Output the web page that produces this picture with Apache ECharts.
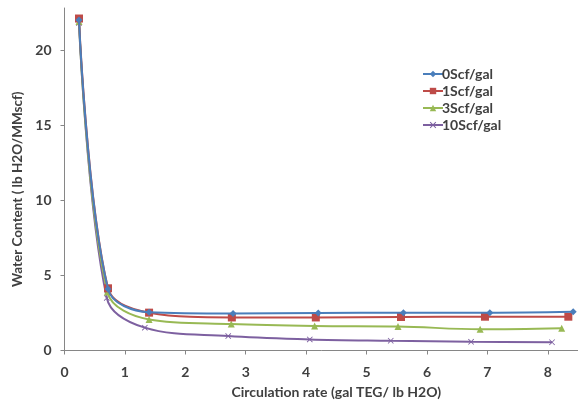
<!DOCTYPE html>
<html>
<head>
<meta charset="utf-8">
<script src="https://cdn.jsdelivr.net/npm/echarts@6/dist/echarts.min.js"></script>
<style>
  html, body { margin: 0; padding: 0; background: #ffffff; }
  #chart { width: 578px; height: 405px; }
</style>
</head>
<body>
<div id="chart"></div>
<script>
// Circulation rate (gal TEG / lb H2O) and water content for each stripping gas rate
const seriesNames = ['0Scf/gal', '1Scf/gal', '3Scf/gal', '10Scf/gal'];

const rate0 = [0.24, 0.72, 1.40, 2.79, 4.20, 5.61, 7.04, 8.42];
const water0 = [22.0, 4.10, 2.55, 2.47, 2.50, 2.52, 2.52, 2.58];

const rate1 = [0.24, 0.72, 1.40, 2.77, 4.16, 5.57, 6.96, 8.34];
const water1 = [22.1, 4.14, 2.52, 2.20, 2.20, 2.23, 2.25, 2.25];

const rate3 = [0.24, 0.71, 1.40, 2.76, 4.14, 5.52, 6.88, 8.23];
const water3 = [21.9, 3.90, 2.07, 1.76, 1.63, 1.60, 1.41, 1.48];

const rate10 = [0.24, 0.70, 1.33, 2.71, 4.06, 5.40, 6.73, 8.07];
const water10 = [21.8, 3.50, 1.52, 0.96, 0.74, 0.65, 0.58, 0.55];

const xTicks = [0, 1, 2, 3, 4, 5, 6, 7, 8];
const yTicks = [0, 5, 10, 15, 20];

const colors = ['#4a7ebb', '#be4b48', '#98b954', '#7d60a0'];
const symbols = [
  'diamond',
  'rect',
  'triangle',
  'path://M0,1L1,0L5,4L9,0L10,1L6,5L10,9L9,10L5,6L1,10L0,9L4,5Z'
];
const symbolSizes = [7, 8, 7, 6];

const rates = [rate0, rate1, rate3, rate10];
const waters = [water0, water1, water3, water10];

const font = 'Lato, "Liberation Sans", sans-serif';
const textColor = '#404040';
const axisColor = '#868686';

const series = seriesNames.map((name, i) => ({
  name: name,
  type: 'line',
  data: rates[i].map((x, j) => [x, waters[i][j]]),
  smooth: 0.35,
  symbol: symbols[i],
  symbolSize: symbolSizes[i],
  showAllSymbol: true,
  lineStyle: { color: colors[i], width: 2 },
  itemStyle: { color: colors[i] },
  z: 10 - i
}));

const chart = echarts.init(document.getElementById('chart'), null, { renderer: 'canvas' });
chart.setOption({
  animation: false,
  backgroundColor: '#ffffff',
  color: colors,
  textStyle: { fontFamily: font },
  grid: { left: 64.5, right: 0, top: 8, bottom: 54.5, containLabel: false },
  legend: {
    orient: 'vertical',
    left: 417,
    top: 62,
    itemWidth: 20,
    itemHeight: 8,
    itemGap: 3,
    data: seriesNames,
    textStyle: { fontFamily: font, fontWeight: 'bold', fontSize: 14, color: textColor, padding: [0, 0, 0, -6] }
  },
  xAxis: {
    type: 'value',
    min: 0,
    max: 8.5,
    interval: 1,
    name: 'Circulation rate (gal TEG/ lb H2O)',
    nameLocation: 'middle',
    nameGap: 35,
    nameTextStyle: { fontFamily: font, fontWeight: 'bold', fontSize: 14, color: textColor, padding: [0, 0, 0, 30] },
    axisLine: { show: true, lineStyle: { color: axisColor, width: 1 } },
    axisTick: { show: true, length: 4, inside: false, lineStyle: { color: axisColor }, customValues: xTicks },
    axisLabel: { margin: 15, fontFamily: font, fontWeight: 'bold', fontSize: 14, color: textColor, customValues: xTicks },
    splitLine: { show: false }
  },
  yAxis: {
    type: 'value',
    min: 0,
    max: 22.8,
    interval: 5,
    name: 'Water Content ( lb H2O/MMscf)',
    nameLocation: 'middle',
    nameGap: 27,
    nameRotate: 90,
    nameTextStyle: { fontFamily: font, fontWeight: 'bold', fontSize: 13.5, color: textColor, padding: [0, 20, 0, 0] },
    axisLine: { show: true, lineStyle: { color: axisColor, width: 1 } },
    axisTick: { show: true, length: 4, inside: false, lineStyle: { color: axisColor }, customValues: yTicks },
    axisLabel: { margin: 13, fontFamily: font, fontWeight: 'bold', fontSize: 14, color: textColor, customValues: yTicks },
    splitLine: { show: false }
  },
  series: series
});
</script>
</body>
</html>
